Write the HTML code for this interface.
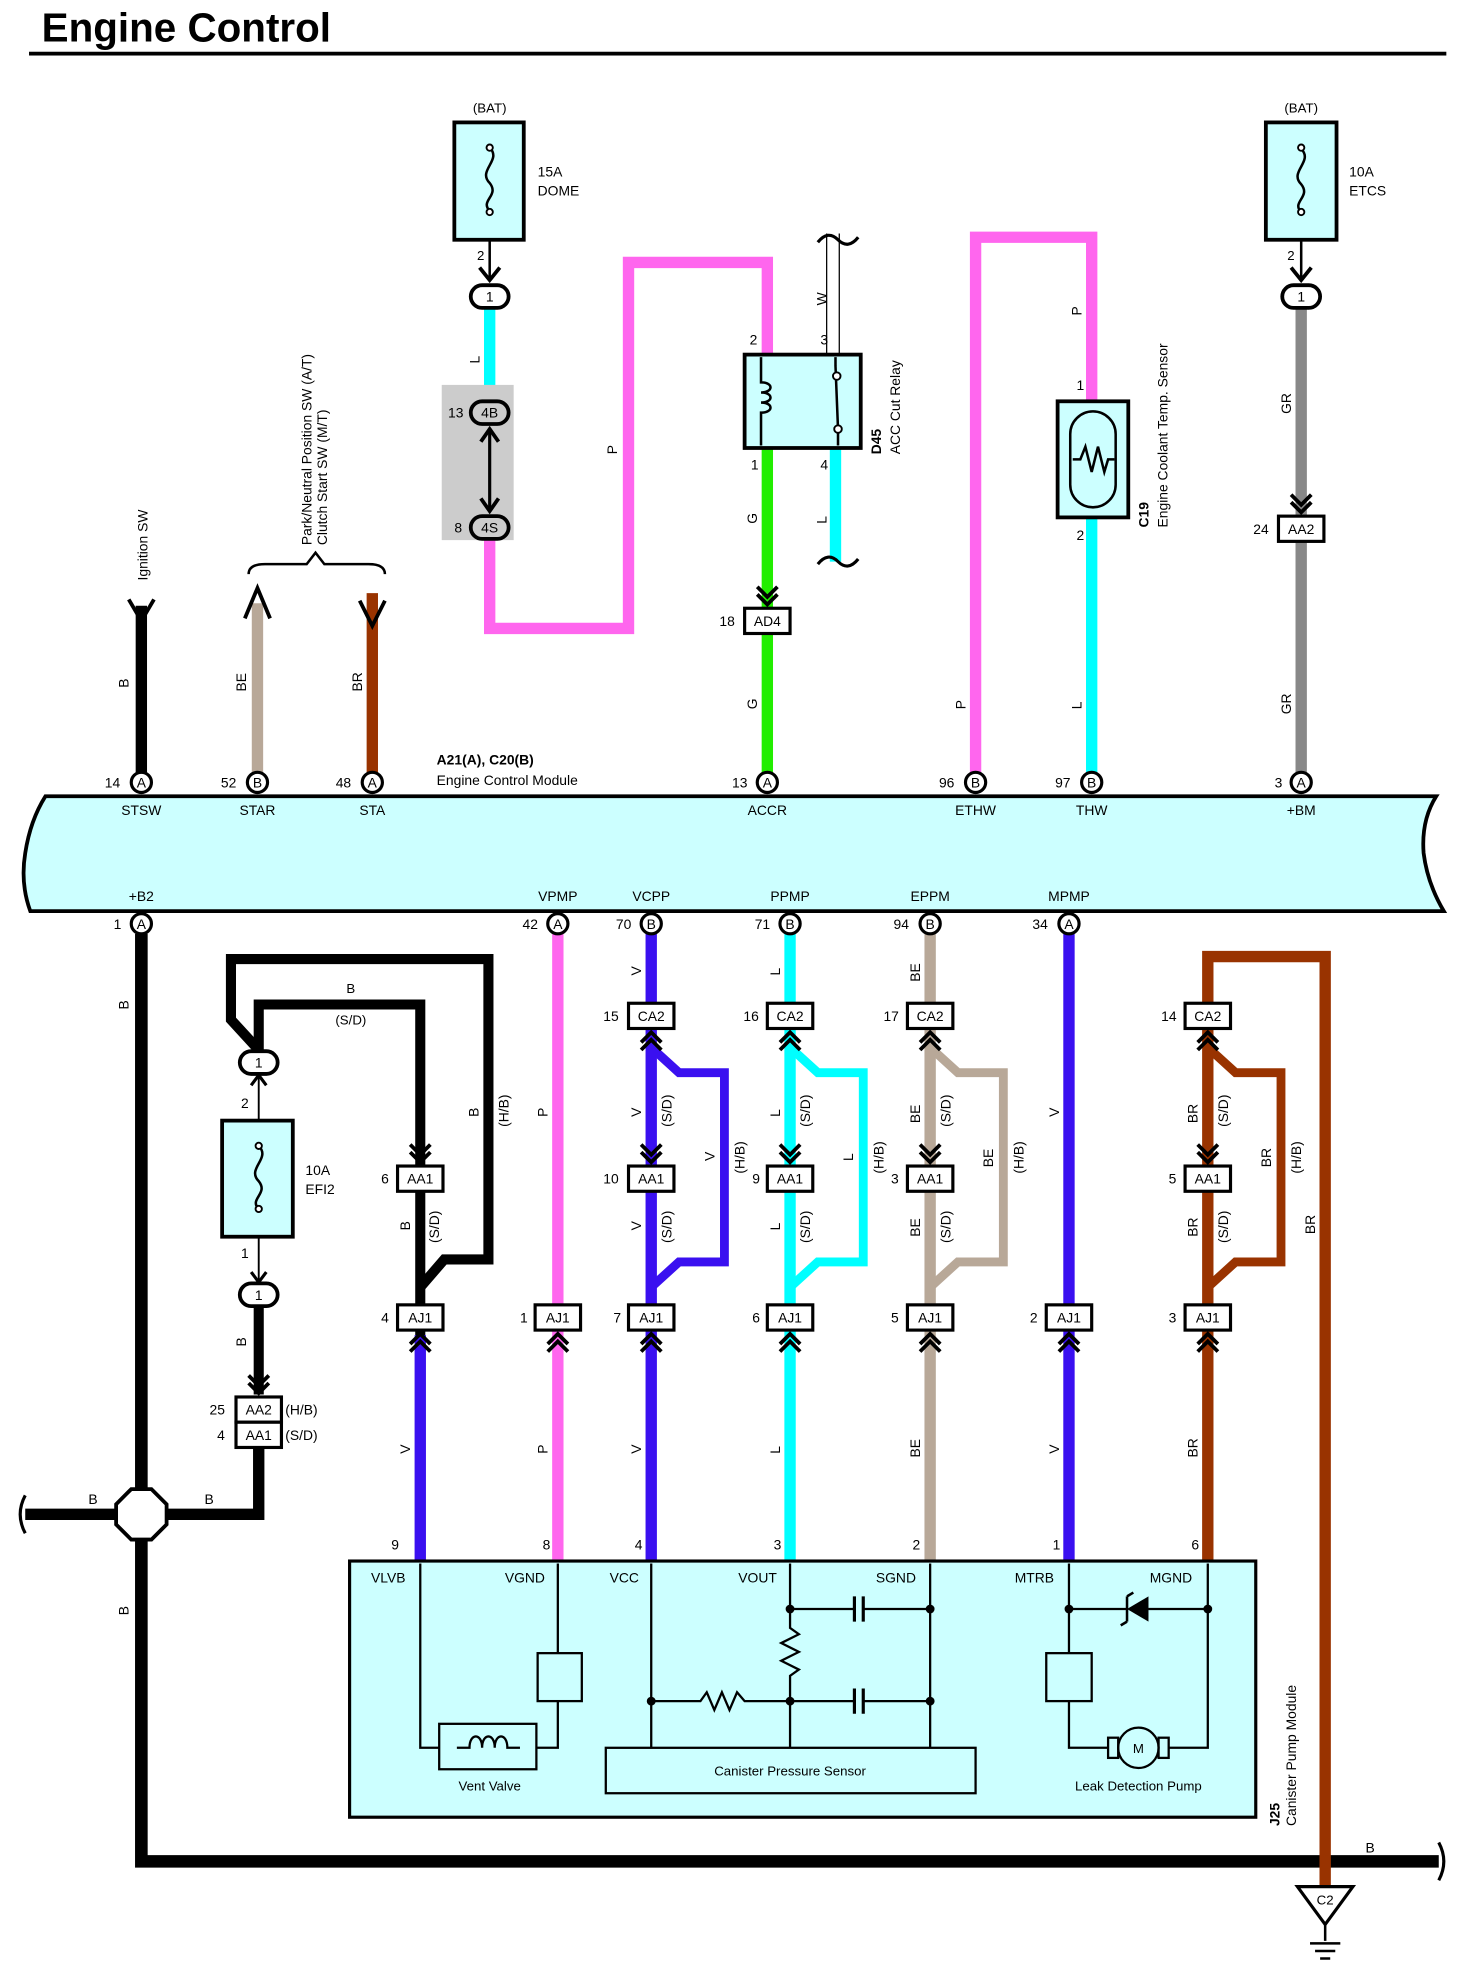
<!DOCTYPE html>
<html><head><meta charset="utf-8"><style>
html,body{margin:0;padding:0;background:#fff}
svg{display:block}
text{font-family:"Liberation Sans",sans-serif;font-size:11px;fill:#000}
.t{font-size:10.5px}
.c{text-anchor:middle}
.b{font-weight:bold}
</style></head><body>
<svg width="1464" height="1980" viewBox="0 0 1160 1569" preserveAspectRatio="none" xmlns="http://www.w3.org/2000/svg">
<defs>
<g id="chd"><polyline points="-8,-27 0,-19 8,-27" fill="none" stroke="#000" stroke-width="3"/><polyline points="-8,-21 0,-13 8,-21" fill="none" stroke="#000" stroke-width="3"/></g>
<g id="chu"><polyline points="-8,27 0,19 8,27" fill="none" stroke="#000" stroke-width="3"/><polyline points="-8,21 0,13 8,21" fill="none" stroke="#000" stroke-width="3"/></g>
</defs>
<text x="33" y="33" class="b" style="font-size:32px">Engine Control</text>
<rect x="23" y="41" width="1123" height="3" fill="#000"/>

<!-- top wires -->
<g fill="none" stroke-linejoin="miter">
<path d="M112,612 V480" stroke="#000" stroke-width="9"/>
<path d="M204,612 V478" stroke="#b8a898" stroke-width="9"/>
<path d="M295,612 V470" stroke="#993300" stroke-width="9"/>
<path d="M388,245 V322" stroke="#00ffff" stroke-width="9"/>
<path d="M388,428 V498 H498 V208 H608 V282" stroke="#ff66ee" stroke-width="9"/>
<path d="M608,355 V612" stroke="#22ee00" stroke-width="9"/>
<path d="M662,355 V445" stroke="#00ffff" stroke-width="9"/>
<path d="M773,612 V188 H865 V318" stroke="#ff66ee" stroke-width="9"/>
<path d="M865,410 V612" stroke="#00ffff" stroke-width="9"/>
<path d="M1031,245 V612" stroke="#888" stroke-width="9"/>
</g>
<!-- arrows top -->
<g fill="none" stroke="#000" stroke-width="3">
<polyline points="102,475 112,492 122,475"/>
<polyline points="194,490 204,466 214,490"/>
<polyline points="285,476 295,496 305,476" />
<path d="M197,455 Q197,447 210,447 H243 L250,438 L257,447 H292 Q305,447 305,455" stroke-width="2"/>
<path d="M655,185 V281 M665,185 V281" stroke-width="1"/>
<path d="M648,192 q8,-10 16,-2 t16,-2 M648,447 q8,-10 16,-2 t16,-2" stroke-width="2.5"/>
</g>
<text transform="translate(117,460) rotate(-90)">Ignition SW</text>
<text transform="translate(247,432) rotate(-90)">Park/Neutral Position SW (A/T)</text>
<text transform="translate(259,432) rotate(-90)">Clutch Start SW (M/T)</text>
<g class="t">
<text transform="translate(102,545) rotate(-90)">B</text>
<text transform="translate(195,548) rotate(-90)">BE</text>
<text transform="translate(287,548) rotate(-90)">BR</text>
<text transform="translate(380,288) rotate(-90)">L</text>
<text transform="translate(489,360) rotate(-90)">P</text>
<text transform="translate(655,242) rotate(-90)">W</text>
<text transform="translate(600,415) rotate(-90)">G</text>
<text transform="translate(655,415) rotate(-90)">L</text>
<text transform="translate(600,562) rotate(-90)">G</text>
<text transform="translate(765,562) rotate(-90)">P</text>
<text transform="translate(857,250) rotate(-90)">P</text>
<text transform="translate(857,562) rotate(-90)">L</text>
<text transform="translate(1023,328) rotate(-90)">GR</text>
<text transform="translate(1023,566) rotate(-90)">GR</text>
</g>

<!-- DOME fuse -->
<text x="388" y="89" class="c t">(BAT)</text>
<rect x="360" y="97" width="55" height="93" fill="#ccffff" stroke="#000" stroke-width="3"/>
<path d="M388,190 V222 M388,170 V167 c-8,-8 8,-12 0,-22 c-10,-10 10,-18 0,-28" fill="none" stroke="#000" stroke-width="2"/>
<circle cx="388" cy="117" r="2.5" fill="#fff" stroke="#000" stroke-width="1.5"/><circle cx="388" cy="168" r="2.5" fill="#fff" stroke="#000" stroke-width="1.5"/>
<polyline points="380,212 388,222 396,212" fill="none" stroke="#000" stroke-width="3"/>
<text x="426" y="140">15A</text><text x="426" y="155">DOME</text>
<text x="378" y="206" class="t">2</text>
<rect x="373" y="226" width="30" height="18" rx="9" fill="#fff" stroke="#000" stroke-width="3"/>
<text x="388" y="239" class="c">1</text>
<rect x="350" y="305" width="57" height="123" fill="#ccc"/>
<rect x="373" y="318" width="30" height="18" rx="9" fill="#ccc" stroke="#000" stroke-width="3"/>
<text x="388" y="331" class="c">4B</text><text x="355" y="331">13</text>
<rect x="373" y="409" width="30" height="18" rx="9" fill="#ccc" stroke="#000" stroke-width="3"/>
<text x="388" y="422" class="c">4S</text><text x="360" y="422">8</text>
<path d="M388,340 V405" stroke="#000" stroke-width="2.5"/>
<polyline points="381,350 388,340 395,350" fill="none" stroke="#000" stroke-width="3"/>
<polyline points="381,395 388,405 395,395" fill="none" stroke="#000" stroke-width="3"/>

<!-- relay -->
<rect x="590" y="281" width="92" height="74" fill="#ccffff" stroke="#000" stroke-width="3"/>
<path d="M603,283 V303 c10,0 10,8 0,8 c10,0 10,8 0,8 c10,0 10,8 0,8 V353 M662,283 V290 M662,290 L664,340 V353" fill="none" stroke="#000" stroke-width="2"/>
<circle cx="663" cy="298" r="3" fill="#fff" stroke="#000" stroke-width="1.5"/>
<circle cx="664" cy="340" r="3" fill="#fff" stroke="#000" stroke-width="1.5"/>
<text x="594" y="273">2</text><text x="650" y="273">3</text><text x="595" y="372">1</text><text x="650" y="372">4</text>
<text transform="translate(698,360) rotate(-90)" class="b">D45</text>
<text transform="translate(713,360) rotate(-90)">ACC Cut Relay</text>
<use href="#chd" x="608" y="492"/>
<rect x="590" y="482" width="36" height="20" fill="#fff" stroke="#000" stroke-width="2.5"/>
<text x="608" y="496" class="c">AD4</text><text x="570" y="496">18</text>

<!-- sensor -->
<rect x="838" y="318" width="56" height="92" fill="#ccffff" stroke="#000" stroke-width="3"/>
<rect x="848" y="326" width="36" height="76" rx="18" fill="none" stroke="#000" stroke-width="2"/>
<path d="M850,364 H856 L860,354 L865,374 L870,354 L875,374 L878,364 H883" fill="none" stroke="#000" stroke-width="2"/>
<text x="853" y="309">1</text><text x="853" y="428">2</text>
<text transform="translate(910,418) rotate(-90)" class="b">C19</text>
<text transform="translate(925,418) rotate(-90)">Engine Coolant Temp.  Sensor</text>

<!-- ETCS -->
<text x="1031" y="89" class="c t">(BAT)</text>
<rect x="1003" y="97" width="56" height="93" fill="#ccffff" stroke="#000" stroke-width="3"/>
<path d="M1031,190 V222 M1031,168 c-8,-8 8,-12 0,-22 c-10,-10 10,-18 0,-28" fill="none" stroke="#000" stroke-width="2"/>
<circle cx="1031" cy="117" r="2.5" fill="#fff" stroke="#000" stroke-width="1.5"/><circle cx="1031" cy="168" r="2.5" fill="#fff" stroke="#000" stroke-width="1.5"/>
<polyline points="1023,212 1031,222 1039,212" fill="none" stroke="#000" stroke-width="3"/>
<text x="1069" y="140">10A</text><text x="1069" y="155">ETCS</text>
<text x="1020" y="206" class="t">2</text>
<rect x="1016" y="226" width="30" height="18" rx="9" fill="#fff" stroke="#000" stroke-width="3"/>
<text x="1031" y="239" class="c">1</text>
<use href="#chd" x="1031" y="419"/>
<rect x="1013" y="409" width="36" height="20" fill="#fff" stroke="#000" stroke-width="2.5"/>
<text x="1031" y="423" class="c">AA2</text><text x="993" y="423">24</text>

<!-- ECM -->
<path d="M36,631 H1138 Q1126,650 1128,676 Q1131,700 1144,722 H24 Q16,700 20,676 Q24,650 36,631 Z" fill="#ccffff" stroke="#000" stroke-width="3"/>
<text x="346" y="606" class="b">A21(A), C20(B)</text>
<text x="346" y="622">Engine Control Module</text>
<g>
<circle cx="112" cy="620" r="8" fill="#fff" stroke="#000" stroke-width="2.5"/><text x="112" y="624" class="c">A</text><text x="83" y="624">14</text><text x="112" y="646" class="c">STSW</text>
<circle cx="204" cy="620" r="8" fill="#fff" stroke="#000" stroke-width="2.5"/><text x="204" y="624" class="c">B</text><text x="175" y="624">52</text><text x="204" y="646" class="c">STAR</text>
<circle cx="295" cy="620" r="8" fill="#fff" stroke="#000" stroke-width="2.5"/><text x="295" y="624" class="c">A</text><text x="266" y="624">48</text><text x="295" y="646" class="c">STA</text>
<circle cx="608" cy="620" r="8" fill="#fff" stroke="#000" stroke-width="2.5"/><text x="608" y="624" class="c">A</text><text x="580" y="624">13</text><text x="608" y="646" class="c">ACCR</text>
<circle cx="773" cy="620" r="8" fill="#fff" stroke="#000" stroke-width="2.5"/><text x="773" y="624" class="c">B</text><text x="744" y="624">96</text><text x="773" y="646" class="c">ETHW</text>
<circle cx="865" cy="620" r="8" fill="#fff" stroke="#000" stroke-width="2.5"/><text x="865" y="624" class="c">B</text><text x="836" y="624">97</text><text x="865" y="646" class="c">THW</text>
<circle cx="1031" cy="620" r="8" fill="#fff" stroke="#000" stroke-width="2.5"/><text x="1031" y="624" class="c">A</text><text x="1010" y="624">3</text><text x="1031" y="646" class="c">+BM</text>
<text x="112" y="714" class="c">+B2</text><text x="442" y="714" class="c">VPMP</text><text x="516" y="714" class="c">VCPP</text><text x="626" y="714" class="c">PPMP</text><text x="737" y="714" class="c">EPPM</text><text x="847" y="714" class="c">MPMP</text>
</g>

<!-- bottom wires -->
<g fill="none" stroke-linejoin="miter">
<path d="M112,740 V1475 H1140" stroke="#000" stroke-width="10"/>
<path d="M20,1200 H205 V1140" stroke="#000" stroke-width="9"/>
<path d="M205,1032 V1105" stroke="#000" stroke-width="8"/>
<path d="M205,832 L183,808 V760 H387 V998 H352 L333,1020" stroke="#000" stroke-width="8"/>
<path d="M205,832 V796 H333 V1236" stroke="#000" stroke-width="8"/>
<path d="M333,1058 V1237" stroke="#3a10f0" stroke-width="9"/>
<path d="M442,740 V1237" stroke="#ff66ee" stroke-width="9"/>
<path d="M516,740 V1237" stroke="#3a10f0" stroke-width="9"/>
<path d="M516,830 L538,850 H574 V1000 H538 L516,1020" stroke="#3a10f0" stroke-width="7"/>
<path d="M626,740 V1237" stroke="#00ffff" stroke-width="9"/>
<path d="M626,830 L648,850 H684 V1000 H648 L626,1020" stroke="#00ffff" stroke-width="7"/>
<path d="M737,740 V1237" stroke="#b8a898" stroke-width="9"/>
<path d="M737,830 L759,850 H795 V1000 H759 L737,1020" stroke="#b8a898" stroke-width="7"/>
<path d="M847,740 V1237" stroke="#3a10f0" stroke-width="9"/>
<path d="M957,1237 V758 H1050 V1495" stroke="#993300" stroke-width="9"/>
<path d="M957,830 L979,850 H1015 V1000 H979 L957,1020" stroke="#993300" stroke-width="7"/>
<path d="M20,1185 q-8,15 0,30 M1140,1460 q8,15 0,30" stroke="#000" stroke-width="2.5"/>
</g>
<polygon points="104,1180 120,1180 132,1192 132,1208 120,1220 104,1220 92,1208 92,1192" fill="#fff" stroke="#000" stroke-width="3"/>
<g>
<circle cx="112" cy="732" r="8" fill="#fff" stroke="#000" stroke-width="2.5"/><text x="112" y="736" class="c">A</text><text x="90" y="736">1</text>
<circle cx="442" cy="732" r="8" fill="#fff" stroke="#000" stroke-width="2.5"/><text x="442" y="736" class="c">A</text><text x="414" y="736">42</text>
<circle cx="516" cy="732" r="8" fill="#fff" stroke="#000" stroke-width="2.5"/><text x="516" y="736" class="c">B</text><text x="488" y="736">70</text>
<circle cx="626" cy="732" r="8" fill="#fff" stroke="#000" stroke-width="2.5"/><text x="626" y="736" class="c">B</text><text x="598" y="736">71</text>
<circle cx="737" cy="732" r="8" fill="#fff" stroke="#000" stroke-width="2.5"/><text x="737" y="736" class="c">B</text><text x="708" y="736">94</text>
<circle cx="847" cy="732" r="8" fill="#fff" stroke="#000" stroke-width="2.5"/><text x="847" y="736" class="c">A</text><text x="818" y="736">34</text>
</g>
<!-- EFI2 fuse -->
<path d="M205,850 V1017" stroke="#000" stroke-width="1.5"/>
<rect x="176" y="888" width="56" height="92" fill="#ccffff" stroke="#000" stroke-width="3"/>
<path d="M205,958 c-8,-8 8,-12 0,-22 c-10,-10 10,-18 0,-28" fill="none" stroke="#000" stroke-width="2"/>
<circle cx="205" cy="908" r="2.5" fill="#fff" stroke="#000" stroke-width="1.5"/><circle cx="205" cy="958" r="2.5" fill="#fff" stroke="#000" stroke-width="1.5"/>
<polyline points="199,860 205,852 211,860" fill="none" stroke="#000" stroke-width="2.5"/>
<polyline points="199,1008 205,1016 211,1008" fill="none" stroke="#000" stroke-width="2.5"/>
<rect x="190" y="833" width="30" height="18" rx="9" fill="#fff" stroke="#000" stroke-width="3"/><text x="205" y="846" class="c">1</text>
<rect x="190" y="1017" width="30" height="18" rx="9" fill="#fff" stroke="#000" stroke-width="3"/><text x="205" y="1030" class="c">1</text>
<text x="191" y="878">2</text><text x="191" y="997">1</text>
<text x="242" y="931">10A</text><text x="242" y="946">EFI2</text>
<use href="#chd" x="205" y="1117"/>
<rect x="187" y="1107" width="36" height="20" fill="#fff" stroke="#000" stroke-width="2.5"/><text x="205" y="1121" class="c">AA2</text>
<rect x="187" y="1127" width="36" height="20" fill="#fff" stroke="#000" stroke-width="2.5"/><text x="205" y="1141" class="c">AA1</text>
<text x="166" y="1121">25</text><text x="172" y="1141">4</text>
<text x="226" y="1121">(H/B)</text><text x="226" y="1141">(S/D)</text>
<text x="278" y="787" class="c t">B</text><text x="278" y="812" class="c t">(S/D)</text>

<!-- connectors columns -->
<g>
<use href="#chd" x="333" y="934"/><rect x="315" y="924" width="36" height="20" fill="#fff" stroke="#000" stroke-width="2.5"/><text x="333" y="938" class="c">AA1</text><text x="302" y="938">6</text>
<use href="#chd" x="516" y="934"/><rect x="498" y="924" width="36" height="20" fill="#fff" stroke="#000" stroke-width="2.5"/><text x="516" y="938" class="c">AA1</text><text x="478" y="938">10</text>
<use href="#chd" x="626" y="934"/><rect x="608" y="924" width="36" height="20" fill="#fff" stroke="#000" stroke-width="2.5"/><text x="626" y="938" class="c">AA1</text><text x="596" y="938">9</text>
<use href="#chd" x="737" y="934"/><rect x="719" y="924" width="36" height="20" fill="#fff" stroke="#000" stroke-width="2.5"/><text x="737" y="938" class="c">AA1</text><text x="706" y="938">3</text>
<use href="#chd" x="957" y="934"/><rect x="939" y="924" width="36" height="20" fill="#fff" stroke="#000" stroke-width="2.5"/><text x="957" y="938" class="c">AA1</text><text x="926" y="938">5</text>

<use href="#chu" x="516" y="805"/><rect x="498" y="795" width="36" height="20" fill="#fff" stroke="#000" stroke-width="2.5"/><text x="516" y="809" class="c">CA2</text><text x="478" y="809">15</text>
<use href="#chu" x="626" y="805"/><rect x="608" y="795" width="36" height="20" fill="#fff" stroke="#000" stroke-width="2.5"/><text x="626" y="809" class="c">CA2</text><text x="589" y="809">16</text>
<use href="#chu" x="737" y="805"/><rect x="719" y="795" width="36" height="20" fill="#fff" stroke="#000" stroke-width="2.5"/><text x="737" y="809" class="c">CA2</text><text x="700" y="809">17</text>
<use href="#chu" x="957" y="805"/><rect x="939" y="795" width="36" height="20" fill="#fff" stroke="#000" stroke-width="2.5"/><text x="957" y="809" class="c">CA2</text><text x="920" y="809">14</text>

<use href="#chu" x="333" y="1044"/><rect x="315" y="1034" width="36" height="20" fill="#fff" stroke="#000" stroke-width="2.5"/><text x="333" y="1048" class="c">AJ1</text><text x="302" y="1048">4</text>
<use href="#chu" x="442" y="1044"/><rect x="424" y="1034" width="36" height="20" fill="#fff" stroke="#000" stroke-width="2.5"/><text x="442" y="1048" class="c">AJ1</text><text x="412" y="1048">1</text>
<use href="#chu" x="516" y="1044"/><rect x="498" y="1034" width="36" height="20" fill="#fff" stroke="#000" stroke-width="2.5"/><text x="516" y="1048" class="c">AJ1</text><text x="486" y="1048">7</text>
<use href="#chu" x="626" y="1044"/><rect x="608" y="1034" width="36" height="20" fill="#fff" stroke="#000" stroke-width="2.5"/><text x="626" y="1048" class="c">AJ1</text><text x="596" y="1048">6</text>
<use href="#chu" x="737" y="1044"/><rect x="719" y="1034" width="36" height="20" fill="#fff" stroke="#000" stroke-width="2.5"/><text x="737" y="1048" class="c">AJ1</text><text x="706" y="1048">5</text>
<use href="#chu" x="847" y="1044"/><rect x="829" y="1034" width="36" height="20" fill="#fff" stroke="#000" stroke-width="2.5"/><text x="847" y="1048" class="c">AJ1</text><text x="816" y="1048">2</text>
<use href="#chu" x="957" y="1044"/><rect x="939" y="1034" width="36" height="20" fill="#fff" stroke="#000" stroke-width="2.5"/><text x="957" y="1048" class="c">AJ1</text><text x="926" y="1048">3</text>
</g>
<!-- rotated wire labels bottom -->
<g class="t">
<text transform="translate(102,800) rotate(-90)">B</text>
<text transform="translate(102,1280) rotate(-90)">B</text>
<text x="70" y="1192">B</text><text x="162" y="1192">B</text>
<text x="1082" y="1468">B</text>
<text transform="translate(195,1067) rotate(-90)">B</text>
<text transform="translate(379,885) rotate(-90)">B</text>
<text transform="translate(403,893) rotate(-90)">(H/B)</text>
<text transform="translate(325,975) rotate(-90)">B</text>
<text transform="translate(348,985) rotate(-90)">(S/D)</text>
<text transform="translate(325,1152) rotate(-90)">V</text>
<text transform="translate(434,885) rotate(-90)">P</text>
<text transform="translate(434,1152) rotate(-90)">P</text>
<text transform="translate(508,773) rotate(-90)">V</text>
<text transform="translate(508,885) rotate(-90)">V</text>
<text transform="translate(532,893) rotate(-90)">(S/D)</text>
<text transform="translate(566,920) rotate(-90)">V</text>
<text transform="translate(590,930) rotate(-90)">(H/B)</text>
<text transform="translate(508,975) rotate(-90)">V</text>
<text transform="translate(532,985) rotate(-90)">(S/D)</text>
<text transform="translate(508,1152) rotate(-90)">V</text>
<text transform="translate(618,773) rotate(-90)">L</text>
<text transform="translate(618,885) rotate(-90)">L</text>
<text transform="translate(642,893) rotate(-90)">(S/D)</text>
<text transform="translate(676,920) rotate(-90)">L</text>
<text transform="translate(700,930) rotate(-90)">(H/B)</text>
<text transform="translate(618,975) rotate(-90)">L</text>
<text transform="translate(642,985) rotate(-90)">(S/D)</text>
<text transform="translate(618,1152) rotate(-90)">L</text>
<text transform="translate(729,778) rotate(-90)">BE</text>
<text transform="translate(729,890) rotate(-90)">BE</text>
<text transform="translate(753,893) rotate(-90)">(S/D)</text>
<text transform="translate(787,925) rotate(-90)">BE</text>
<text transform="translate(811,930) rotate(-90)">(H/B)</text>
<text transform="translate(729,980) rotate(-90)">BE</text>
<text transform="translate(753,985) rotate(-90)">(S/D)</text>
<text transform="translate(729,1155) rotate(-90)">BE</text>
<text transform="translate(839,885) rotate(-90)">V</text>
<text transform="translate(839,1152) rotate(-90)">V</text>
<text transform="translate(949,890) rotate(-90)">BR</text>
<text transform="translate(973,893) rotate(-90)">(S/D)</text>
<text transform="translate(1007,925) rotate(-90)">BR</text>
<text transform="translate(1031,930) rotate(-90)">(H/B)</text>
<text transform="translate(949,980) rotate(-90)">BR</text>
<text transform="translate(973,985) rotate(-90)">(S/D)</text>
<text transform="translate(1042,978) rotate(-90)">BR</text>
<text transform="translate(949,1155) rotate(-90)">BR</text>
</g>

<!-- ground -->
<polygon points="1028,1495 1072,1495 1050,1525" fill="#fff" stroke="#000" stroke-width="2.5"/>
<text x="1050" y="1509" class="c t">C2</text>
<path d="M1050,1525 V1538 M1038,1540 H1062 M1042,1546 H1058 M1046,1552 H1054" stroke="#000" stroke-width="2"/>

<!-- canister module -->
<rect x="277" y="1237" width="718" height="203" fill="#ccffff" stroke="#000" stroke-width="2.5"/>
<g class="t">
<text x="310" y="1228">9</text><text x="430" y="1228">8</text><text x="503" y="1228">4</text><text x="613" y="1228">3</text><text x="723" y="1228">2</text><text x="834" y="1228">1</text><text x="944" y="1228">6</text>
</g>
<g class="t">
<text x="294" y="1254">VLVB</text><text x="400" y="1254">VGND</text><text x="483" y="1254">VCC</text><text x="585" y="1254">VOUT</text><text x="694" y="1254">SGND</text><text x="804" y="1254">MTRB</text><text x="911" y="1254">MGND</text>
</g>
<g fill="none" stroke="#000" stroke-width="1.8">
<path d="M333,1239 V1385 H348 M442,1239 V1310 M442,1348 V1385 H425"/>
<rect x="348" y="1366" width="77" height="36"/>
<rect x="426" y="1310" width="35" height="38"/>
<path d="M362,1385 H372 c0,-12 10,-12 10,0 c0,-12 10,-12 10,0 c0,-12 10,-12 10,0 H412"/>
<path d="M516,1239 V1385 M626,1239 V1290 L633,1295 L619,1302 L633,1309 L619,1316 L633,1323 L626,1328 V1385 M737,1239 V1385"/>
<path d="M516,1348 H555 L560,1341 L566,1355 L572,1341 L578,1355 L584,1341 L590,1348 H677 M684,1348 H737 M626,1275 H677 M684,1275 H737"/>
<path d="M677,1265 V1285 M684,1265 V1285 M677,1338 V1358 M684,1338 V1358" stroke-width="2.5"/>
<rect x="480" y="1385" width="293" height="36"/>
<path d="M847,1239 V1310 M847,1348 V1385 H878 M926,1385 H957 V1239 M847,1275 H893 M910,1275 H957"/>
<rect x="829" y="1310" width="36" height="38"/>
<circle cx="902" cy="1385" r="16"/>
<rect x="878" y="1377" width="8" height="16"/><rect x="918" y="1377" width="8" height="16"/>
</g>
<polygon points="910,1265 910,1285 893,1275" fill="#000"/>
<path d="M893,1265 V1285 M893,1265 l5,-3 M893,1285 l-5,3" stroke="#000" stroke-width="2" fill="none"/>
<g fill="#000">
<circle cx="516" cy="1348" r="3.5"/><circle cx="626" cy="1348" r="3.5"/><circle cx="626" cy="1275" r="3.5"/><circle cx="737" cy="1275" r="3.5"/><circle cx="737" cy="1348" r="3.5"/><circle cx="847" cy="1275" r="3.5"/><circle cx="957" cy="1275" r="3.5"/>
</g>
<text x="902" y="1389" class="c t">M</text>
<text x="388" y="1419" class="c t">Vent Valve</text>
<text x="626" y="1407" class="c t">Canister Pressure Sensor</text>
<text x="902" y="1419" class="c t">Leak Detection Pump</text>
<text transform="translate(1014,1447) rotate(-90)" class="b">J25</text>
<text transform="translate(1027,1447) rotate(-90)">Canister Pump Module</text>
</svg>
</body></html>
